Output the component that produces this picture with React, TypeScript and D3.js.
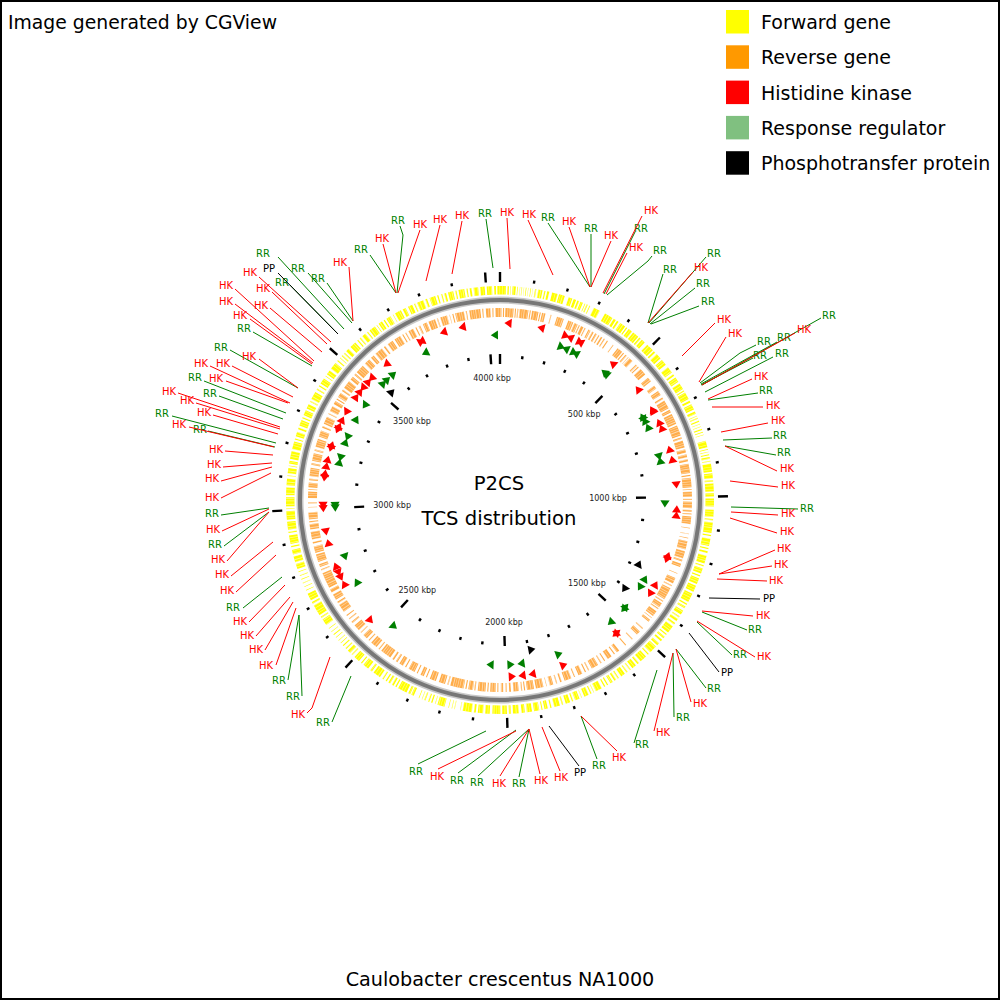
import React from "react";
import * as d3 from "d3";

const genomeKbp = 4042;
const title = "Caulobacter crescentus NA1000";
const credit = "Image generated by CGView";
const centerLines = ["P2CS", "TCS distribution"];
const legendNames = ["Forward gene", "Reverse gene", "Histidine kinase", "Response regulator", "Phosphotransfer protein"];
const legendColors = ["#ffff00", "#ff9900", "#ff0000", "#80c080", "#000000"];
const tickLabelOffsets = [122, 120, 108, 120, 122, 122, 108, 118, 122];

const forwardGenes: [number, number][] = [
[0,18],[22,27],[31,33],[38,48],[52,54],[60,61],[65,67],[72,73],[78,80],[85,86],[92,94],[99,100],[106,110],[116,129],[134,138],[143,150],[158,176],[180,198],[210,222],[226,234],[238,244],[248,256],[262,264],[268,272],[277,280],[292,312],[330,356],[360,368],[372,378],[384,402],[406,410],[415,428],[432,452],[456,462],[466,478],[488,512],[516,522],[528,546],[552,570],[580,600],[606,612],[618,634],[640,660],[664,668],[672,694],[700,706],[712,730],[736,744],[750,752],[757,760],[766,770],[776,778],[784,786],[792,796],[802,804],[810,812],[830,850],[856,858],[864,866],[872,875],[880,886],[892,894],[900,925],[930,945],[950,955],[960,985],[990,1000],[1006,1030],
[1040,1062],[1068,1072],[1078,1110],[1116,1120],[1128,1150],[1156,1160],[1166,1172],[1180,1204],[1210,1214],[1220,1236],[1242,1246],[1252,1270],[1276,1296],[1302,1330],[1336,1340],[1346,1352],[1360,1374],[1380,1384],[1390,1398],[1404,1410],[1416,1440],[1446,1450],[1456,1462],[1468,1474],[1482,1490],[1496,1520],[1526,1530],[1538,1560],[1566,1572],[1578,1592],[1598,1602],[1610,1614],[1620,1634],[1642,1646],[1652,1658],[1664,1672],[1680,1684],[1690,1694],[1702,1722],[1728,1730],[1736,1740],[1746,1760],[1768,1770],[1776,1790],[1796,1800],[1806,1820],[1828,1832],[1838,1856],[1864,1868],[1876,1886],[1892,1895],[1902,1918],[1924,1940],[1946,1956],[1964,1982],[1988,1994],[2000,2014],[2020,2044],
[2052,2066],[2072,2088],[2094,2100],[2106,2134],[2140,2142],[2158,2160],[2166,2168],[2176,2178],[2190,2212],[2218,2220],[2228,2232],[2238,2242],[2250,2254],[2260,2262],[2270,2272],[2288,2296],[2300,2306],[2312,2340],[2346,2350],[2356,2362],[2368,2374],[2380,2384],[2392,2396],[2404,2428],[2434,2440],[2448,2466],[2472,2476],[2484,2502],[2510,2514],[2520,2530],[2536,2540],[2548,2552],[2560,2562],[2570,2572],[2582,2584],[2592,2595],[2604,2606],[2616,2618],[2630,2650],[2656,2660],[2666,2700],[2706,2712],[2718,2740],[2750,2752],[2762,2764],[2774,2776],[2786,2788],[2798,2800],[2810,2812],[2820,2836],[2842,2860],[2866,2880],[2888,2892],[2898,2924],[2932,2936],[2942,2966],[2972,2998],[3004,3006],[3012,3040],[3046,3070],[3076,3096],[3104,3106],[3112,3128],[3134,3136],[3142,3150],[3156,3180],[3186,3210],[3216,3220],[3226,3240],[3248,3254],[3260,3278],[3284,3288],[3294,3310],[3316,3330],[3338,3342],[3348,3372],[3380,3384],[3392,3396],[3402,3420],[3428,3430],[3436,3450],[3456,3478],[3486,3490],[3498,3500],[3506,3510],[3516,3520],[3526,3536],[3544,3564],[3572,3576],[3582,3586],[3592,3604],[3610,3614],[3620,3640],[3646,3648],[3654,3666],[3672,3676],[3682,3696],[3704,3706],[3712,3732],[3738,3748],[3756,3770],[3776,3780],[3786,3806],[3812,3818],[3826,3844],[3850,3854],[3862,3866],[3872,3878],[3884,3900],[3906,3910],[3916,3934],[3940,3944],[3950,3956],[3962,3976],[3982,3996],[4002,4018],[4024,4030],[4034,4042],
];

const reverseGenes: [number, number][] = [
[0,5],[10,14],[18,46],[50,54],[58,62],[66,96],[100,104],[108,130],[134,138],[142,154],[172,175],[194,218],[234,252],[256,268],[272,276],[280,290],[294,298],[308,316],[322,328],[334,340],[346,350],[356,362],[368,372],[380,384],[404,407],[424,444],[448,452],[458,464],[470,472],[476,490],[506,512],[516,520],[528,552],[566,582],[600,612],[622,638],[648,654],[660,690],[696,706],[712,748],[754,790],[796,802],[808,832],[838,850],[856,866],[872,880],[888,920],[926,930],[936,968],[974,976],[982,1000],[1006,1010],[1016,1038],[1044,1050],[1056,1060],[1066,1092],[1104,1106],[1124,1126],[1138,1140],[1150,1178],[1184,1210],[1214,1220],[1228,1240],[1262,1264],[1280,1300],[1306,1310],[1318,1360],[1366,1370],[1376,1392],[1396,1400],[1408,1428],[1434,1436],[1444,1452],[1480,1484],[1496,1510],[1530,1534],[1560,1564],[1590,1600],[1608,1612],[1622,1638],[1648,1652],[1662,1666],[1676,1700],[1710,1714],[1722,1726],[1736,1750],[1762,1766],[1776,1800],[1810,1816],[1826,1830],[1840,1852],[1862,1864],[1874,1900],[1906,1930],[1936,1940],[1946,1950],[1958,1976],[1984,1990],[1998,2002],[2010,2018],[2026,2030],[2036,2054],[2060,2064],[2070,2096],[2104,2108],[2112,2128],[2134,2138],[2144,2190],[2196,2200],[2208,2230],[2240,2262],[2272,2276],[2284,2296],[2306,2310],[2318,2340],[2350,2354],[2362,2376],[2384,2390],[2398,2404],[2412,2450],[2458,2462],[2470,2494],[2502,2506],[2514,2530],[2540,2544],[2552,2574],[2584,2590],[2600,2604],[2614,2618],[2632,2660],[2666,2672],[2680,2700],[2708,2720],[2726,2780],[2790,2794],[2802,2812],[2820,2846],[2852,2874],[2884,2890],[2898,2924],[2932,2950],[2956,2960],[2966,2990],[3006,3008],[3020,3024],[3038,3060],[3066,3068],[3074,3090],[3098,3104],[3112,3140],[3150,3156],[3164,3190],[3198,3204],[3212,3240],[3248,3270],[3280,3286],[3294,3320],[3330,3334],[3342,3360],[3368,3380],[3386,3390],[3396,3412],[3420,3426],[3432,3460],[3468,3480],[3488,3494],[3500,3530],[3540,3560],[3568,3580],[3588,3616],[3624,3630],[3640,3660],[3668,3690],[3698,3702],[3710,3714],[3722,3740],[3748,3752],[3760,3766],[3776,3790],[3796,3820],[3826,3830],[3838,3862],[3870,3872],[3880,3884],[3890,3920],[3926,3930],[3938,3976],[3982,3986],[3994,4010],[4016,4020],[4026,4042],
];

// [position in kbp, strand]
const hkFeatures: [number, number][] = [
[29,-1],[150,-1],[246,1],[261,-1],[302,1],[302,-1],[444,-1],[575,-1],[665,-1],[670,-1],[718,-1],[741,-1],[823,-1],[861,-1],[956,1],[1043,-1],[1065,-1],[1215,-1],[1232,1],[1330,-1],[1370,1],[1565,1],[1553,-1],[1783,-1],[1904,1],[1941,1],[1976,-1],
[2549,-1],[2714,1],[2740,-1],[2759,-1],[2786,1],[2875,1],[2915,-1],[3000,-1],[3012,-1],[3112,-1],[3130,1],[3157,1],[3181,1],[3236,1],[3222,-1],[3293,-1],[3309,1],[3334,1],[3365,-1],[3432,1],[3456,1],[3472,-1],[3503,1],[3519,-1],[3593,-1],[3746,1],[3746,-1],[3832,-1],[3903,-1],
];
const rrFeatures: [number, number][] = [
[246,1],[263,-1],[300,1],[306,-1],[440,-1],[449,-1],[682,1],[670,-1],[688,-1],[716,-1],[840,1],[856,-1],[1026,1],[1330,-1],[1370,1],[1476,1],[1462,-1],[1549,1],[1785,-1],[1939,1],[1978,-1],[2060,1],
[2469,-1],[2698,1],[2805,-1],[3000,-1],[3010,-1],[3180,1],[3198,-1],[3262,1],[3283,-1],[3362,1],[3424,-1],[3537,1],[3559,1],[3590,1],[3739,-1],[4020,-1],
];
const ppFeatures: [number, number][] = [
[1287,-1],[1411,1],[1886,-1],[3537,1],
];

// Leader lines on the 1000-unit map: label anchor, then line from the label side to the gene side
const rrLeaders: number[][] = [
[548,217,548,223,590,287],[591,228,591,234,591,287],[641,228,635,232,604,294],[660,250,652,256,648,261,607,295],[670,269,663,274,648,323],[714,253,706,257,649,323],[703,283,695,288,650,324],[708,301,699,306,651,324],[829,315,821,318,702,385],[784,337,777,342,701,384],[764,341,756,345,740,353,700,383],[760,355,753,358,701,385],[782,353,773,357,705,392],[766,390,758,393,708,400],[780,435,772,438,723,440],[784,452,776,455,725,446],[807,508,798,509,731,507],[755,629,747,630,702,612],[740,654,732,655,697,622],[714,688,706,688,676,649],[683,717,674,717,673,653],[642,744,634,743,657,670],[599,765,597,759,581,716],[519,783,519,777,529,729],[477,782,478,776,529,729],[457,780,458,773,516,730],[416,771,418,764,486,731],[323,722,332,722,351,676],[293,696,302,696,299,615],[279,680,288,680,299,615],[233,607,243,608,282,577],[215,544,224,546,269,512],[212,513,221,515,269,508],[200,429,208,431,275,447],[162,413,172,416,276,443],[210,393,219,396,283,419],[195,377,204,381,286,413],[221,347,230,350,298,388],[244,328,253,332,312,366],[282,282,290,285,338,334],[263,253,278,257,344,329],[298,268,308,273,352,323],[318,278,327,283,353,321],[361,249,370,255,396,293],[398,220,400,226,403,235,397,293],[485,213,486,219,493,268],
];
const hkLeaders: number[][] = [
[507,212,507,218,510,269],[529,214,528,220,553,275],[569,221,569,227,590,287],[611,235,611,241,591,287],[651,210,642,216,603,293],[636,247,627,253,606,294],[701,267,693,272,648,323],[724,319,715,323,682,356],[735,333,726,337,699,382],[804,329,795,333,702,385],[761,376,752,379,708,399],[773,405,763,407,712,407],[778,420,768,423,721,432],[787,468,777,471,725,446],[788,485,778,487,730,481],[788,513,778,515,731,512],[787,531,777,533,730,518],[784,548,775,550,719,574],[781,564,772,566,719,574],[776,580,767,581,717,579],[763,615,753,616,702,611],[764,656,755,657,697,621],[700,703,691,702,676,649],[663,732,654,731,673,653],[619,757,617,751,581,716],[561,777,560,771,542,727],[541,780,540,774,529,729],[499,783,500,776,529,729],[437,776,438,769,516,731],[298,714,307,713,312,708,330,657],[266,665,276,665,296,608],[256,649,265,650,293,602],[247,635,256,636,290,597],[240,621,249,622,285,585],[227,590,236,592,276,555],[222,574,231,576,273,542],[218,559,227,561,269,512],[213,529,222,531,269,509],[212,497,221,498,271,473],[212,478,221,481,272,467],[214,464,223,467,272,463],[216,449,225,451,273,455],[179,424,189,427,274,447],[204,412,213,415,278,434],[187,400,196,403,280,429],[169,391,178,393,280,427],[216,378,226,381,288,403],[223,363,232,366,293,397],[201,363,210,366,290,403],[249,356,259,359,298,388],[240,315,250,319,312,364],[226,301,235,304,313,363],[226,285,235,289,314,361],[261,305,270,308,322,352],[263,288,272,292,327,344],[250,272,259,277,331,342],[340,262,349,267,353,321],[382,238,383,244,396,293],[420,224,420,230,398,293],[440,219,440,225,426,281],[462,215,462,221,452,274],
];
const ppLeaders: number[][] = [
[769,598,760,599,709,598],[727,672,719,672,689,633],[580,772,579,766,549,726],[269,268,278,273,338,334],
];

const width = 1000;
const height = 1000;
const mapX = d3.scaleLinear().domain([0, 1000]).range([0, width]);
const mapY = d3.scaleLinear().domain([0, 1000]).range([0, height]);
const cx = mapX(500);
const cy = mapY(500);
const angle = d3.scaleLinear().domain([0, genomeKbp]).range([0, 2 * Math.PI]);

const FONT = "'DejaVu Sans', sans-serif";
const RED = "#ff0000";
const GREEN = "#007f00";
const BLACK = "#000000";

const arc = d3.arc<any>();
const band = (r0: number, r1: number, s: number, e: number) =>
  arc({ innerRadius: r0, outerRadius: r1, startAngle: angle(s), endAngle: angle(e) }) as string;
const triangle = d3.lineRadial<[number, number]>().angle((d) => d[0]).radius((d) => d[1]).curve(d3.curveLinearClosed);
const arrow = (kbp: number, strand: number, r: number) => {
  const half = 3.6 / r;
  const a = angle(kbp);
  return triangle([
    [a - strand * half, r - 4.6],
    [a - strand * half, r + 4.6],
    [a + strand * half, r],
  ]) as string;
};
const leaderPath = d3.line<[number, number]>().x((d) => mapX(d[0])).y((d) => mapY(d[1]));
const pairs = (v: number[]) => d3.range(2, v.length, 2).map((i) => [v[i], v[i + 1]] as [number, number]);
const polar = (kbp: number, r: number): [number, number] => [Math.sin(angle(kbp)) * r, -Math.cos(angle(kbp)) * r];

const minorTicks = d3.range(0, genomeKbp, 100).filter((k) => k % 500 !== 0);
const majorTicks = d3.range(0, genomeKbp, 500);

function Leaders({ rows, color, label }: { rows: number[][]; color: string; label: string }) {
  return (
    <g>
      {rows.map((v, i) => (
        <g key={i}>
          <path d={leaderPath(pairs(v)) as string} fill="none" stroke={color} strokeWidth={1} />
          <text x={mapX(v[0])} y={mapY(v[1])} dy={3.6} textAnchor="middle" fontFamily={FONT} fontSize={10} fill={color}>
            {label}
          </text>
        </g>
      ))}
    </g>
  );
}

export default function App() {
  return (
    <svg width={width} height={height} viewBox={`0 0 ${width} ${height}`} style={{ position: "absolute", left: 0, top: 0, background: "#fff" }}>
      <rect x={1} y={1} width={width - 2} height={height - 2} fill="#fff" stroke="#000" strokeWidth={2} />
      <text x={8} y={29} fontFamily={FONT} fontSize={18.8} fill="#000">{credit}</text>
      {legendNames.map((n, i) => (
        <g key={n}>
          <rect x={726} y={10 + i * 35.3} width={23} height={23.5} fill={legendColors[i]} />
          <text x={761} y={29 + i * 35.3} fontFamily={FONT} fontSize={19} fill="#000">{n}</text>
        </g>
      ))}
      <g transform={`translate(${cx},${cy})`}>
        <path d={band(196.5, 203.5, 0, genomeKbp)} fill="#c8c8c8" />
        <path d={band(198, 202, 0, genomeKbp)} fill="#777777" />
        {forwardGenes.map(([s, e], i) => (
          <path key={i} d={band(205.5, 214, s, e)} fill="#ffff00" />
        ))}
        <circle r={209.75} fill="none" stroke="#fff" strokeOpacity={0.55} strokeWidth={8.5} strokeDasharray="0.7 2.1 0.5 1.6 0.9 2.7 0.6 1.9" />
        {reverseGenes.map(([s, e], i) => (
          <path key={i} d={band(183, 192, s, e)} fill="#ff9f2a" fillOpacity={0.85} />
        ))}
        <circle r={187.5} fill="none" stroke="#fff" strokeOpacity={0.55} strokeWidth={9} strokeDasharray="0.7 1.7 0.5 1.4 0.9 2.3 0.6 1.5" />
        {hkFeatures.map(([k, s], i) => <path key={i} d={arrow(k, s, 177)} fill={RED} />)}
        {rrFeatures.map(([k, s], i) => <path key={i} d={arrow(k, s, 165)} fill={GREEN} />)}
        {ppFeatures.map(([k, s], i) => <path key={i} d={arrow(k, s, 153)} fill={BLACK} />)}
        {minorTicks.map((k) => {
          const [a, b] = polar(k, 219), [c, d] = polar(k, 222);
          const [e, f] = polar(k, 142.5), [g, h] = polar(k, 145.5);
          return (
            <g key={k} stroke="#000" strokeWidth={2.4}>
              <line x1={a} y1={b} x2={c} y2={d} />
              <line x1={e} y1={f} x2={g} y2={h} />
            </g>
          );
        })}
        {majorTicks.map((k, i) => {
          const [a, b] = polar(k, 218), [c, d] = polar(k, 228);
          const [e, f] = polar(k, 136), [g, h] = polar(k, 146);
          const [tx, ty] = polar(k, tickLabelOffsets[i]);
          return (
            <g key={k}>
              <g stroke="#000" strokeWidth={2.4}>
                <line x1={a} y1={b} x2={c} y2={d} />
                <line x1={e} y1={f} x2={g} y2={h} />
              </g>
              {k > 0 && (
                <text x={tx} y={ty} dy={3} textAnchor="middle" fontFamily={FONT} fontSize={8} fill="#222">
                  {k} kbp
                </text>
              )}
            </g>
          );
        })}
      </g>
      <Leaders rows={rrLeaders} color={GREEN} label="RR" />
      <Leaders rows={hkLeaders} color={RED} label="HK" />
      <Leaders rows={ppLeaders} color={BLACK} label="PP" />
      {centerLines.map((t, i) => (
        <text key={t} x={499} y={490 + i * 35} textAnchor="middle" fontFamily={FONT} fontSize={19.6} fill="#000">{t}</text>
      ))}
      <text x={500} y={985.5} textAnchor="middle" fontFamily={FONT} fontSize={19.2} fill="#000">{title}</text>
    </svg>
  );
}
